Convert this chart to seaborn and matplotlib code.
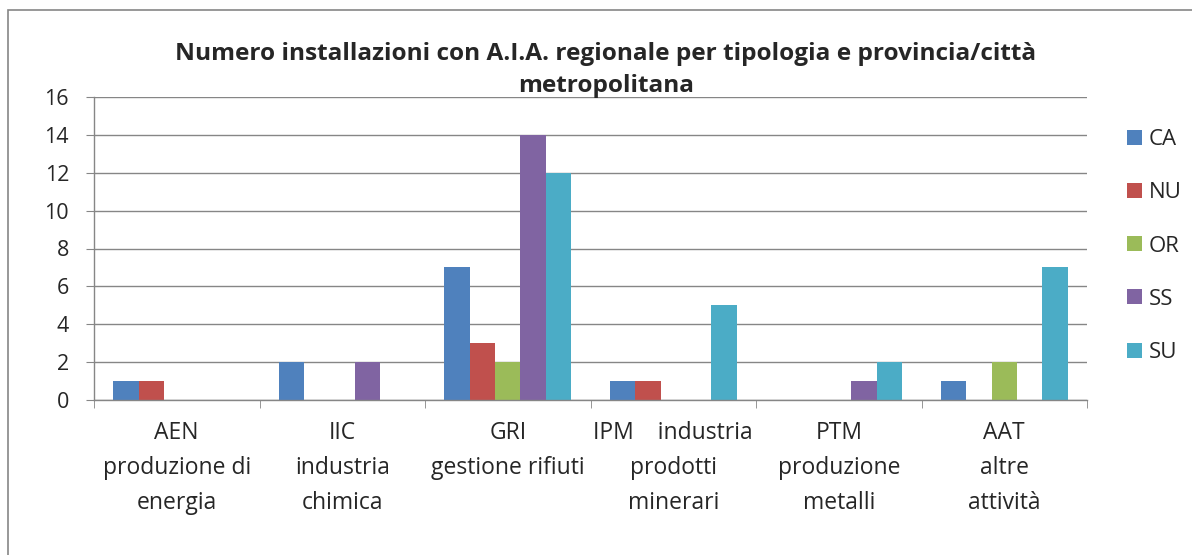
import pandas as pd
import numpy as np
import matplotlib
matplotlib.use("Agg")
import matplotlib.pyplot as plt
from matplotlib.patches import Rectangle
import seaborn as sns

# --- DATI ---
categorie = [
    "AEN\nproduzione di\nenergia",
    "IIC\nindustria\nchimica",
    "GRI\ngestione rifiuti",
    "IPM    industria\nprodotti\nminerari",
    "PTM\nproduzione\nmetalli",
    "AAT\naltre\nattività",
]
province = ["CA", "NU", "OR", "SS", "SU"]
CA = [1, 2, 7, 1, 0, 1]
NU = [1, 0, 3, 1, 0, 0]
OR = [0, 0, 2, 0, 0, 2]
SS = [0, 2, 14, 0, 1, 0]
SU = [0, 0, 12, 5, 2, 7]
colori = ["#4F81BD", "#C0504D", "#9BBB59", "#8064A2", "#4BACC6"]
titolo = "Numero installazioni con A.I.A. regionale per tipologia e provincia/città\nmetropolitana"

valori = {"CA": CA, "NU": NU, "OR": OR, "SS": SS, "SU": SU}
righe = []
for p in province:
    for c, v in zip(categorie, valori[p]):
        righe.append({"categoria": c, "provincia": p, "valore": v})
df = pd.DataFrame(righe)

sns.set_style("white")
plt.rcParams["font.family"] = ["Open Sans", "DejaVu Sans"]
GRIGIO = "#868686"

fig = plt.figure(figsize=(11.92, 5.55), dpi=100)
ax = fig.add_axes([94 / 1192, 1 - 400 / 555, 993 / 1192, 303 / 555])

ax.set_axisbelow(True)
ax.yaxis.grid(True, color=GRIGIO, linewidth=1)
sns.barplot(data=df, x="categoria", y="valore", hue="provincia", order=categorie,
            hue_order=province, palette=colori, width=0.767, saturation=1,
            linewidth=0, ax=ax)

ax.set_ylim(0, 16)
ax.set_yticks(range(0, 17, 2))
ax.set_xlim(-0.5, 5.5)
ax.set_xlabel("")
ax.set_ylabel("")
ax.tick_params(axis="y", labelsize=15.5, length=6, color=GRIGIO, left=True, pad=12)
ax.tick_params(axis="x", labelsize=16.5, length=0, pad=15)
ax.set_xticks(np.arange(-0.5, 6, 1), minor=True)
ax.tick_params(axis="x", which="minor", length=6, color=GRIGIO, bottom=True)
for t in ax.get_xticklabels():
    t.set_linespacing(1.62)
for s in ["top", "right"]:
    ax.spines[s].set_visible(False)
for s in ["left", "bottom"]:
    ax.spines[s].set_color(GRIGIO)
    ax.spines[s].set_linewidth(1)

ax.legend_.remove()
maniglie, etichette = ax.get_legend_handles_labels()
fig.legend(maniglie, etichette, loc="center left",
           bbox_to_anchor=(1127 / 1192, 1 - 246 / 555), frameon=False,
           fontsize=16, handlelength=0.68, handleheight=0.66, handletextpad=0.3,
           labelspacing=1.45, borderpad=0, borderaxespad=0)

fig.text(606 / 1192, 1 - 70 / 555, titolo, ha="center", va="center",
         fontsize=17.6, fontweight="bold", linespacing=1.5)

# cornice esterna del grafico
fig.patches.append(Rectangle((8 / 1192, -0.05), 1.1, 1 - 10 / 555 + 0.05,
                             transform=fig.transFigure, fill=False,
                             edgecolor=GRIGIO, linewidth=1.2))

fig.savefig("out.png", dpi=100)
